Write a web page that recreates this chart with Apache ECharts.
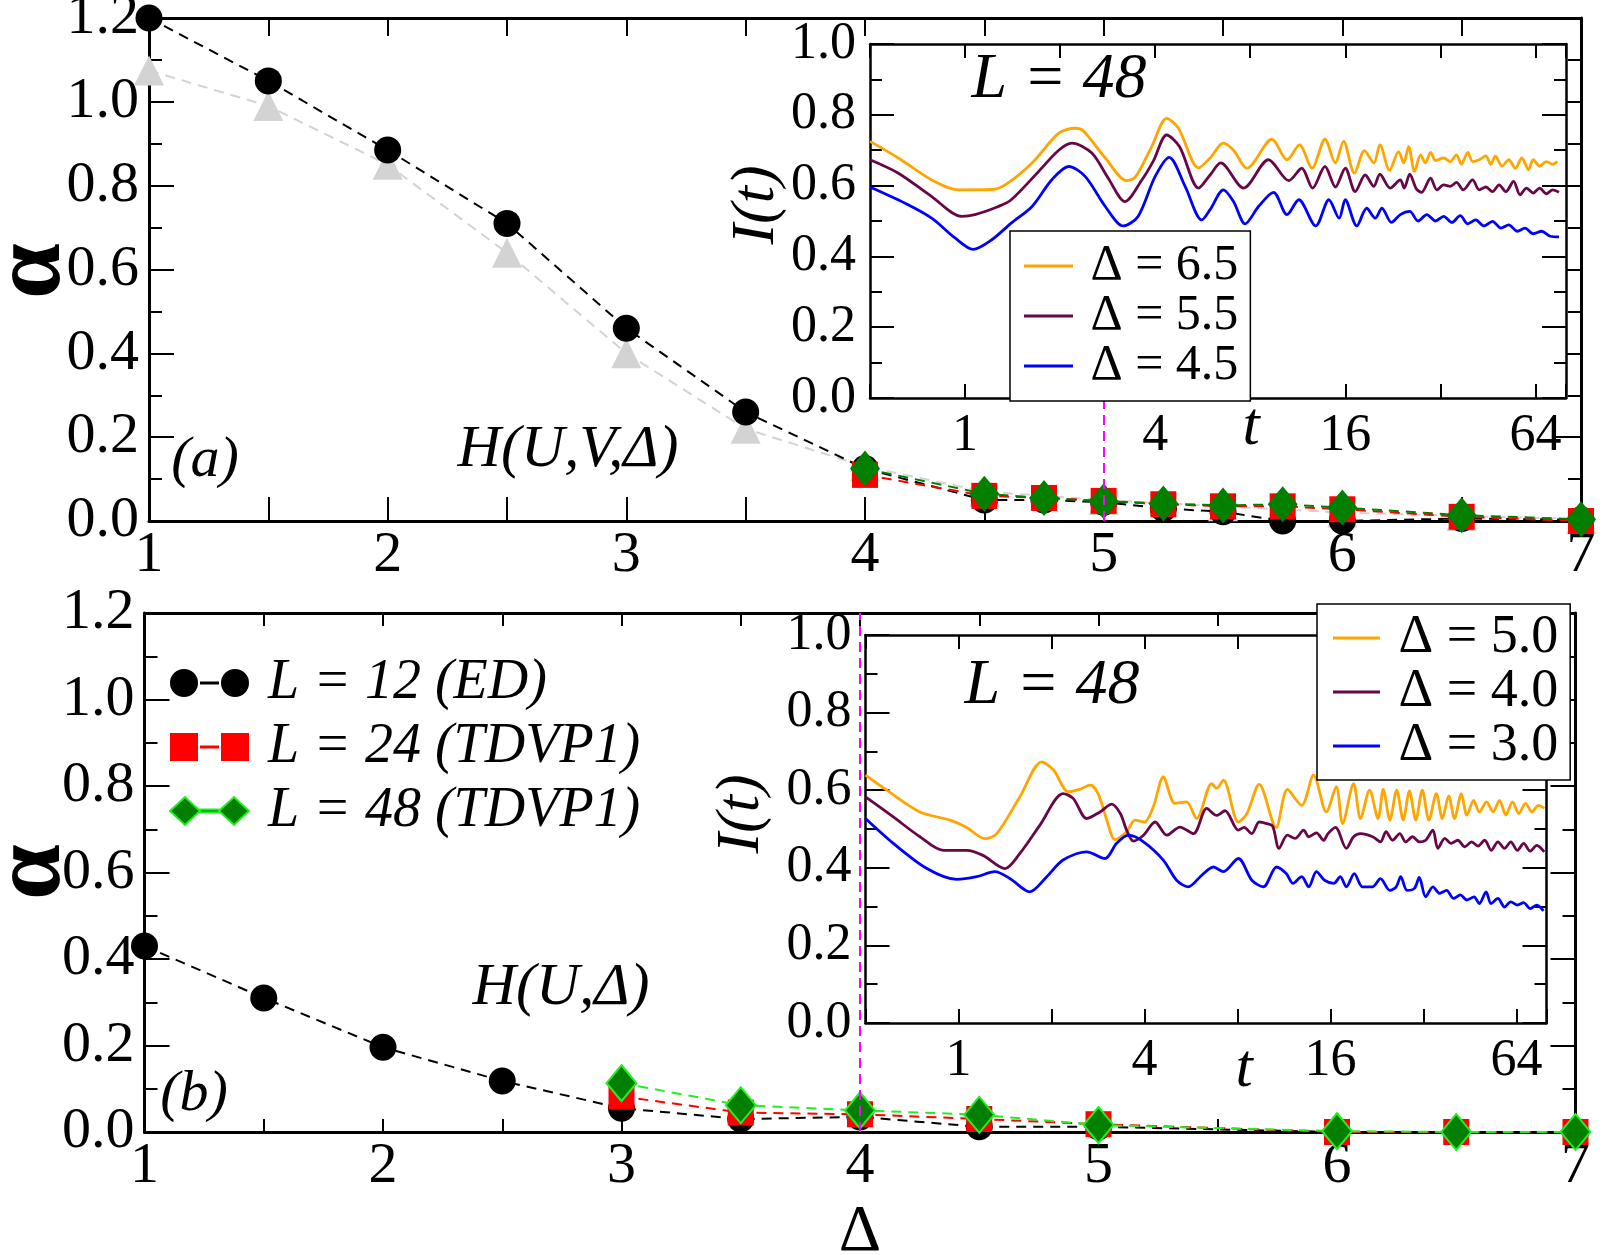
<!DOCTYPE html>
<html><head><meta charset="utf-8">
<script src="https://cdn.jsdelivr.net/npm/echarts@6/dist/echarts.min.js"></script>
<style>html,body{margin:0;padding:0;background:#fff}#c{width:1605px;height:1255px}</style>
</head><body><div id="c"></div>
<script>
// ---------- Panel (a): alpha vs Delta ----------
const aED   = [[1,1.20],[1.5,1.05],[2,0.885],[2.5,0.71],[3,0.46],[3.5,0.26],[4,0.125],[4.5,0.05],[4.75,0.05],[5,0.045],[5.25,0.03],[5.5,0.022],[5.75,0.0],[6,0.0],[6.5,0.006],[7,0.003]];
const aTri  = [[1,1.075],[1.5,0.99],[2,0.85],[2.5,0.64],[3,0.40],[3.5,0.22],[4,0.13],[4.5,0.07],[5,0.05],[5.5,0.035],[6,0.02],[6.5,0.012],[7,0.005]];
const aL24  = [[4,0.11],[4.5,0.06],[4.75,0.055],[5,0.048],[5.25,0.04],[5.5,0.035],[5.75,0.035],[6,0.028],[6.5,0.01],[7,0.0]];
const aL48  = [[4,0.125],[4.5,0.065],[4.75,0.055],[5,0.047],[5.25,0.042],[5.5,0.037],[5.75,0.04],[6,0.032],[6.5,0.014],[7,0.004]];
// ---------- Panel (b) ----------
const bED   = [[1,0.43],[1.5,0.31],[2,0.196],[2.5,0.118],[3,0.055],[3.5,0.03],[4,0.035],[4.5,0.012],[5,0.012],[6,0.0],[6.5,0.0],[7,0.0]];
const bL24  = [[3,0.082],[3.5,0.045],[4,0.041],[4.5,0.03],[5,0.018],[6,0.0],[6.5,0.0],[7,0.0]];
const bL48  = [[3,0.113],[3.5,0.062],[4,0.05],[4.5,0.04],[5,0.016],[6,0.002],[6.5,0.0],[7,0.0]];
// ---------- Inset (a): I(t), L=48 ----------
const insA65 = [[0.5,.725],[0.615,.678],[0.784,.616],[0.954,.588],[1.215,.589],[1.34,.602],[1.63,.664],[1.98,.748],[2.23,.762],[2.37,.754],[2.78,.678],[3.25,.614],[3.46,.624],[3.9,.71],[4.35,.79],[4.74,.762],[5.49,.65],[5.97,.678],[6.58,.72],[7.08,.70],[7.81,.649],[9.37,.731],[10.46,.673],[11.46,.715],[12.55,.649],[13.8,.731],[14.88,.664],[15.8,.725],[17.1,.635],[18.4,.699],[19.7,.664],[20.6,.715],[22.1,.643],[23.6,.696],[24.5,.664],[25.4,.71],[26.5,.64],[27.7,.687],[28.7,.664],[29.8,.694],[30.9,.671],[32.8,.678],[34.4,.668],[36.0,.687],[37.3,.66],[39.1,.694],[40.5,.668],[42.5,.673],[44.6,.684],[46.2,.66],[47.8,.683],[50.2,.655],[52.7,.673],[55.3,.649],[58.0,.678],[60.8,.645],[63.0,.673],[66.0,.655],[69.3,.668],[72.6,.66],[75.1,.668]];
const insA55 = [[0.5,.673],[0.615,.635],[0.784,.569],[0.976,.513],[1.075,.518],[1.275,.541],[1.4,.56],[1.71,.64],[1.98,.70],[2.18,.72],[2.52,.692],[2.84,.621],[3.21,.555],[3.63,.616],[3.95,.67],[4.35,.743],[4.78,.71],[5.49,.593],[5.97,.63],[6.45,.664],[7.62,.593],[9.14,.673],[10.6,.614],[11.65,.649],[12.6,.593],[13.8,.654],[14.9,.596],[16.0,.649],[17.2,.583],[18.5,.63],[19.7,.598],[20.6,.632],[22.2,.593],[23.9,.616],[24.6,.593],[25.6,.632],[26.9,.59],[27.9,.581],[29.8,.621],[31.2,.588],[32.8,.602],[34.4,.598],[36.0,.609],[37.8,.588],[40.5,.616],[42.5,.588],[44.6,.596],[46.8,.583],[49.1,.602],[51.6,.583],[54.6,.612],[57.2,.574],[60.0,.593],[63.0,.579],[66.0,.593],[69.3,.577],[72.6,.588],[76.0,.581]];
const insA45 = [[0.5,.596],[0.646,.55],[0.784,.508],[0.93,.452],[1.06,.42],[1.215,.447],[1.4,.494],[1.63,.541],[1.88,.616],[2.13,.654],[2.4,.626],[2.78,.541],[3.17,.486],[3.53,.513],[4.0,.626],[4.43,.68],[4.98,.597],[5.62,.503],[5.97,.532],[6.58,.588],[7.08,.555],[7.71,.492],[8.5,.541],[9.48,.581],[10.46,.518],[11.4,.56],[12.9,.486],[14.2,.56],[15.3,.508],[16.0,.56],[17.4,.486],[18.7,.536],[19.9,.508],[20.9,.536],[22.4,.496],[23.9,.518],[25.6,.527],[27.2,.5],[29.0,.518],[30.9,.5],[32.8,.513],[34.8,.496],[37.0,.515],[39.1,.492],[41.4,.503],[44.0,.486],[46.8,.499],[49.8,.48],[52.7,.489],[56.1,.471],[59.3,.48],[63.0,.464],[67.0,.471],[71.3,.457],[76.0,.455]];
// ---------- Inset (b): I(t), L=48 ----------
const insB50 = [[0.5,.639],[0.586,.6],[0.75,.544],[0.939,.523],[1.063,.504],[1.218,.475],[1.33,.488],[1.58,.583],[1.86,.673],[2.03,.652],[2.27,.596],[2.46,.602],[2.67,.613],[2.83,.591],[3.02,.523],[3.21,.473],[3.5,.493],[3.73,.523],[4.0,.518],[4.27,.557],[4.6,.634],[5.02,.566],[5.47,.57],[5.9,.527],[6.6,.617],[6.85,.605],[7.2,.626],[8.05,.518],[8.57,.539],[9.4,.615],[10.66,.504],[11.6,.602],[12.9,.561],[14.1,.639],[15.5,.544],[16.7,.609],[17.5,.514],[19.0,.617],[20.0,.527],[21.4,.6],[22.8,.527],[23.7,.602],[24.9,.523],[26.2,.6],[27.5,.523],[28.8,.598],[30.2,.523],[31.7,.6],[33.3,.523],[35.2,.591],[36.8,.527],[38.6,.585],[40.3,.527],[42.4,.591],[44.2,.536],[46.5,.574],[48.5,.544],[51.2,.57],[53.7,.544],[56.4,.574],[59.1,.536],[62.1,.57],[65.1,.54],[68.4,.566],[71.8,.544],[75.4,.561],[78.7,.553]];
const insB40 = [[0.5,.583],[0.615,.531],[0.75,.48],[0.893,.445],[1.063,.445],[1.2,.432],[1.414,.398],[1.58,.437],[1.835,.51],[2.18,.591],[2.35,.579],[2.6,.527],[2.87,.544],[3.13,.564],[3.34,.54],[3.5,.497],[3.68,.469],[3.97,.484],[4.33,.518],[4.72,.484],[5.21,.505],[5.76,.488],[6.36,.553],[6.85,.535],[7.29,.547],[8.05,.497],[8.4,.504],[8.9,.488],[9.4,.518],[9.94,.514],[10.4,.507],[10.9,.45],[11.6,.484],[12.3,.476],[13.1,.497],[13.6,.48],[14.4,.49],[15.2,.471],[15.7,.488],[16.6,.504],[18.0,.45],[19.0,.48],[20.0,.488],[21.9,.48],[23.2,.467],[24.2,.493],[25.4,.471],[26.8,.488],[28.0,.467],[29.5,.48],[31.0,.467],[32.5,.471],[34.3,.497],[35.6,.45],[37.5,.476],[39.3,.463],[41.3,.471],[43.5,.454],[45.8,.467],[48.0,.456],[50.5,.471],[53.0,.445],[55.7,.467],[58.5,.45],[61.3,.467],[64.4,.445],[67.5,.463],[70.8,.443],[74.4,.458],[78.7,.441]];
const insB30 = [[0.5,.527],[0.615,.463],[0.79,.398],[0.987,.37],[1.145,.377],[1.31,.39],[1.47,.372],[1.70,.338],[1.93,.377],[2.18,.42],[2.6,.441],[2.98,.424],[3.25,.463],[3.55,.484],[3.97,.467],[4.6,.42],[5.08,.368],[5.54,.351],[6.06,.377],[6.44,.396],[6.68,.402],[7.2,.39],[8.05,.424],[8.9,.368],[9.7,.351],[10.7,.402],[11.5,.385],[12.1,.36],[12.9,.377],[13.6,.351],[14.4,.39],[15.3,.368],[16.4,.36],[17.2,.377],[18.0,.351],[19.1,.385],[20.3,.351],[21.9,.351],[23.2,.372],[24.9,.342],[26.1,.351],[27.0,.377],[28.3,.342],[29.9,.347],[31.0,.375],[32.5,.325],[34.3,.351],[36.1,.334],[38.0,.342],[40.0,.321],[42.1,.33],[44.2,.317],[46.6,.325],[48.5,.308],[51.0,.338],[52.9,.308],[55.7,.321],[58.5,.299],[61.3,.312],[64.4,.304],[67.5,.31],[70.8,.295],[74.4,.304],[78.2,.289]];

const FONT = '"Liberation Serif", "DejaVu Serif", "Noto Serif", Times, serif';
const BLACK = '#000';

function mainX(gi, pos, labels, tickLen, name) {
  return {
    type: 'value', gridIndex: gi, position: pos, min: 1, max: 7, interval: 0.5,
    axisLine: { show: true, onZero: false, lineStyle: { color: BLACK, width: 3 } },
    axisTick: { show: true, inside: true, length: tickLen, lineStyle: { color: BLACK, width: 2 } },
    axisLabel: { show: labels, margin: 6, color: BLACK, fontFamily: FONT, fontSize: 58,
      formatter: v => Number.isInteger(v) ? String(v) : '' },
    splitLine: { show: false },
    name: name || '', nameLocation: 'middle', nameGap: 68,
    nameTextStyle: { fontSize: 66, fontFamily: FONT, color: BLACK }
  };
}
function mainY(gi, pos, labels) {
  return {
    type: 'value', gridIndex: gi, position: pos, min: 0, max: 1.2, interval: 0.2,
    axisLine: { show: true, onZero: false, lineStyle: { color: BLACK, width: 3 } },
    axisTick: { show: true, inside: true, length: 25, lineStyle: { color: BLACK, width: 2 } },
    minorTick: { show: true, splitNumber: 2, length: 13, lineStyle: { color: BLACK, width: 2 } },
    axisLabel: { show: labels, margin: 10, color: BLACK, fontFamily: FONT, fontSize: 58,
      formatter: v => v.toFixed(1) },
    splitLine: { show: false }, minorSplitLine: { show: false }
  };
}
function logLabel(v) {
  const l = Math.log2(v), r = Math.round(l);
  if (Math.abs(l - r) < 1e-6 && r >= 0 && r <= 6 && r % 2 === 0) return String(Math.pow(2, r));
  return '';
}
function insetX(gi, pos, labels) {
  return {
    type: 'log', logBase: 2, gridIndex: gi, position: pos, min: 0.5, max: 80, z: 11,
    axisLine: { show: true, onZero: false, lineStyle: { color: BLACK, width: 2.5 } },
    axisTick: { show: true, inside: true, length: 14, lineStyle: { color: BLACK, width: 2 } },
    axisLabel: { show: labels, margin: 12, color: BLACK, fontFamily: FONT, fontSize: 52, formatter: logLabel },
    splitLine: { show: false }, minorTick: { show: false }
  };
}
function insetY(gi, pos, labels) {
  return {
    type: 'value', gridIndex: gi, position: pos, min: 0, max: 1.0, interval: 0.2, z: 11,
    axisLine: { show: true, onZero: false, lineStyle: { color: BLACK, width: 2.5 } },
    axisTick: { show: true, inside: true, length: 24, lineStyle: { color: BLACK, width: 2 } },
    minorTick: { show: true, splitNumber: 2, length: 12, lineStyle: { color: BLACK, width: 2 } },
    axisLabel: { show: labels, margin: 14, color: BLACK, fontFamily: FONT, fontSize: 52,
      formatter: v => v.toFixed(1) },
    splitLine: { show: false }, minorSplitLine: { show: false }
  };
}

function pointSeries(name, xi, yi, data, symbol, size, color, lineColor, extra) {
  return Object.assign({
    type: 'line', name, xAxisIndex: xi, yAxisIndex: yi, data,
    symbol, symbolSize: size, showSymbol: true, showAllSymbol: true,
    itemStyle: { color, opacity: 1 },
    lineStyle: { color: lineColor, width: 2, type: [10, 7] },
    z: 2, animation: false
  }, extra || {});
}
function curve(name, xi, yi, data, color) {
  return {
    type: 'line', name, xAxisIndex: xi, yAxisIndex: yi, data,
    symbol: 'none', showSymbol: false, smooth: 0.3,
    itemStyle: { color }, lineStyle: { color, width: 2.8 },
    z: 12, animation: false
  };
}

// magenta marker lines (Δ value of the insets)
const magentaA = {
  silent: true, symbol: ['none', 'none'], label: { show: false },
  lineStyle: { color: '#ff00ff', type: [10, 6], width: 2 },
  data: [[{ coord: [5, 0] }, { coord: [5, 0.35] }]]
};
const magentaB = {
  silent: true, symbol: ['none', 'none'], label: { show: false },
  lineStyle: { color: '#ff00ff', type: [10, 6], width: 2 },
  data: [{ xAxis: 4 }]
};

const iconCircle = 'path://M0,14 A14,14 0 1,1 28,14 A14,14 0 1,1 0,14 Z M30,12.5 H49 V15.5 H30 Z M51,14 A14,14 0 1,1 79,14 A14,14 0 1,1 51,14 Z';
const iconSquare = 'path://M0,0 H28 V28 H0 Z M30,12.5 H49 V15.5 H30 Z M51,0 H79 V28 H51 Z';
const iconDiamond = 'path://M0,14 L15,0 L30,14 L15,28 Z M30,12.5 H49 V15.5 H30 Z M49,14 L64,0 L79,14 L64,28 Z';

const txt = (text, x, y, size, rot, style) => ({
  type: 'text', x, y, z: 30, rotation: rot || 0,
  style: { text, font: (style || 'italic') + ' ' + size + 'px ' + FONT, fill: BLACK, align: 'center', verticalAlign: 'middle' }
});

const option = {
  animation: false,
  backgroundColor: '#fff',
  grid: [
    { left: 149, top: 18, width: 1432, height: 503, outerBoundsMode: 'none' },
    { left: 870, top: 44, width: 696, height: 354, show: true, backgroundColor: '#fff', borderWidth: 0, z: 10, outerBoundsMode: 'none' },
    { left: 144.5, top: 613, width: 1431, height: 519, outerBoundsMode: 'none' },
    { left: 865.5, top: 635, width: 681, height: 388, show: true, backgroundColor: '#fff', borderWidth: 0, z: 10, outerBoundsMode: 'none' }
  ],
  xAxis: [
    mainX(0, 'bottom', true, 24),
    mainX(0, 'top', false, 18),
    insetX(1, 'bottom', true),
    insetX(1, 'top', false),
    mainX(2, 'bottom', true, 13, 'Δ'),
    mainX(2, 'top', false, 13),
    insetX(3, 'bottom', true),
    insetX(3, 'top', false)
  ],
  yAxis: [
    mainY(0, 'left', true),
    mainY(0, 'right', false),
    insetY(1, 'left', true),
    insetY(1, 'right', false),
    mainY(2, 'left', true),
    mainY(2, 'right', false),
    insetY(3, 'left', true),
    insetY(3, 'right', false)
  ],
  legend: [
    {
      data: ['Δ = 6.5', 'Δ = 5.5', 'Δ = 4.5'], orient: 'vertical', left: 1010, top: 231,
      padding: [10, 12, 10, 14], itemGap: 0, itemWidth: 49, itemHeight: 3, icon: 'rect',
      backgroundColor: '#fff', borderColor: BLACK, borderWidth: 1.5, borderRadius: 0,
      textStyle: { fontSize: 50, fontFamily: FONT, color: BLACK, lineHeight: 46 },
      formatter: n => '\u00a0' + n, selectedMode: false, z: 20
    },
    {
      data: ['Δ = 5.0', 'Δ = 4.0', 'Δ = 3.0'], orient: 'vertical', left: 1317, top: 604,
      padding: [7, 12, 7, 16], itemGap: 0, itemWidth: 47, itemHeight: 3, icon: 'rect',
      backgroundColor: '#fff', borderColor: BLACK, borderWidth: 1.5, borderRadius: 0,
      textStyle: { fontSize: 54, fontFamily: FONT, color: BLACK, lineHeight: 52 },
      formatter: n => '\u00a0' + n, selectedMode: false, z: 20
    },
    {
      data: [{ name: 'L = 12 (ED)', icon: iconCircle }, { name: 'L = 24 (TDVP1)', icon: iconSquare }, { name: 'L = 48 (TDVP1)', icon: iconDiamond }],
      orient: 'vertical', left: 164, top: 650, itemGap: 8, itemWidth: 79, itemHeight: 28,
      textStyle: { fontSize: 56, fontStyle: 'italic', fontFamily: FONT, color: BLACK, lineHeight: 56 },
      formatter: n => '\u00a0' + n, selectedMode: false, z: 20
    }
  ],
  series: [
    // panel (a)
    pointSeries('tri a', 0, 0, aTri, 'triangle', 30, '#d3d3d3', '#d3d3d3'),
    pointSeries('ED a', 0, 0, aED, 'circle', 27, BLACK, BLACK, { markLine: magentaA }),
    pointSeries('L24 a', 0, 0, aL24, 'rect', 26, '#ff0000', '#ff0000'),
    pointSeries('L48 a', 0, 0, aL48, 'diamond', [30, 36], '#007f00', '#007f00'),
    // inset (a)
    curve('Δ = 6.5', 2, 2, insA65, '#ffa500'),
    curve('Δ = 5.5', 2, 2, insA55, '#670748'),
    curve('Δ = 4.5', 2, 2, insA45, '#0000ff'),
    // panel (b)
    pointSeries('L = 12 (ED)', 4, 4, bED, 'circle', 27, BLACK, BLACK, { markLine: magentaB }),
    pointSeries('L = 24 (TDVP1)', 4, 4, bL24, 'rect', 26, '#ff0000', '#ff0000'),
    pointSeries('L = 48 (TDVP1)', 4, 4, bL48, 'diamond', [30, 36], '#007f00', '#22ee22',
      { itemStyle: { color: '#007f00', borderColor: '#22ee22', borderWidth: 2, opacity: 1 } }),
    // inset (b)
    curve('Δ = 5.0', 6, 6, insB50, '#ffa500'),
    curve('Δ = 4.0', 6, 6, insB40, '#670748'),
    curve('Δ = 3.0', 6, 6, insB30, '#0000ff')
  ],
  graphic: [
    txt('α', 33, 271, 100, Math.PI / 2, 'bold'),
    txt('α', 33, 872, 100, Math.PI / 2, 'bold'),
    txt('(a)', 205, 461, 58),
    txt('H(U,V,Δ)', 568, 450, 60),
    txt('(b)', 194, 1095, 58),
    txt('H(U,Δ)', 561, 988, 60),
    txt('L = 48', 1059, 80, 64),
    txt('L = 48', 1052, 686, 64),
    txt('I(t)', 757, 205, 62, Math.PI / 2),
    txt('I(t)', 742, 814, 62, Math.PI / 2),
    txt('t', 1251, 428, 62),
    txt('t', 1244, 1070, 62)
  ]
};

const chart = echarts.init(document.getElementById('c'), null, { renderer: 'canvas', width: 1605, height: 1255 });
chart.setOption(option);
</script></body></html>
